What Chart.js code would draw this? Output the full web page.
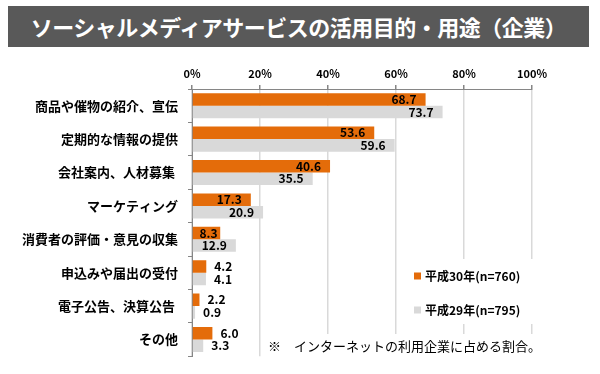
<!DOCTYPE html>
<html>
<head>
<meta charset="utf-8">
<script src="https://cdn.jsdelivr.net/npm/chart.js@4/dist/chart.umd.min.js"></script>
<style>
	body { margin: 0; background: #fff; }
	#wrap { position: relative; width: 600px; height: 374px; }
	#title {
		position: absolute; left: 8px; top: 6px; width: 581px; height: 41px;
		background: #595959; color: #fff; font: bold 22px 'Noto Sans CJK JP', sans-serif;
		line-height: 41px; text-align: center; letter-spacing: -0.5px;
	}
	canvas { position: absolute; left: 0; top: 0; }
</style>
</head>
<body>
<div id="wrap">
	<canvas id="chart" width="600" height="374"></canvas>
	<div id="title">ソーシャルメディアサービスの活用目的・用途（企業）</div>
</div>
<script>
const categories = ['商品や催物の紹介、宣伝', '定期的な情報の提供', '会社案内、人材募集 ', 'マーケティング',
	'消費者の評価・意見の収集', '申込みや届出の受付', '電子公告、決算公告 ', 'その他'];
const seriesNames = ['平成30年(n=760)', '平成29年(n=795)'];
const values2018 = [68.7, 53.6, 40.6, 17.3, 8.3, 4.2, 2.2, 6.0];
const values2017 = [73.7, 59.6, 35.5, 20.9, 12.9, 4.1, 0.9, 3.3];
const xTicks = [0, 20, 40, 60, 80, 100];
const note = '※　インターネットの利用企業に占める割合。';

const FONT = "'Noto Sans CJK JP', sans-serif";

// value labels, legend box and note drawn on the canvas
const extras = {
	id: 'extras',
	afterDatasetsDraw(chart) {
		const ctx = chart.ctx;
		ctx.save();
		ctx.font = 'bold 12px ' + FONT;
		ctx.fillStyle = '#000';
		ctx.textBaseline = 'middle';
		chart.data.datasets.forEach((ds, di) => {
			chart.getDatasetMeta(di).data.forEach((bar, i) => {
				const txt = ds.data[i].toFixed(1);
				const tw = ctx.measureText(txt).width;
				const w = bar.x - bar.base;
				if (w > tw + 14) {
					ctx.textAlign = 'right';
					ctx.fillText(txt, bar.x - 9, bar.y);
				} else if (w > tw + 4) {
					ctx.textAlign = 'center';
					ctx.fillText(txt, (bar.x + bar.base) / 2 + 2, bar.y);
				} else {
					ctx.textAlign = 'left';
					ctx.fillText(txt, bar.x + 8, bar.y);
				}
			});
		});
		ctx.restore();
	},
	afterDraw(chart) {
		const ctx = chart.ctx;
		ctx.save();
		// legend
		ctx.fillStyle = '#fff';
		ctx.fillRect(400, 259, 145, 65);
		ctx.font = 'bold 12px ' + FONT;
		ctx.textBaseline = 'middle';
		ctx.textAlign = 'left';
		chart.data.datasets.forEach((ds, di) => {
			const y = 276 + di * 34;
			ctx.fillStyle = ds.backgroundColor;
			ctx.fillRect(414, y - 3.5, 7, 7);
			ctx.fillStyle = '#000';
			ctx.fillText(ds.label, 425, y);
		});
		// note
		ctx.fillStyle = '#fff';
		ctx.fillRect(262, 334, 285, 23);
		ctx.fillStyle = '#000';
		ctx.font = '13px ' + FONT;
		ctx.fillText(note, 268, 346);
		ctx.restore();
	}
};

new Chart(document.getElementById('chart'), {
	type: 'bar',
	data: {
		labels: categories,
		datasets: [
			{ label: seriesNames[0], data: values2018, backgroundColor: '#E46C0A' },
			{ label: seriesNames[1], data: values2017, backgroundColor: '#D9D9D9' }
		]
	},
	options: {
		indexAxis: 'y',
		responsive: false,
		animation: false,
		events: [],
		layout: { padding: { left: 0, right: 68, top: 0, bottom: 7 } },
		datasets: { bar: { categoryPercentage: 0.75, barPercentage: 1.0 } },
		plugins: { legend: { display: false }, tooltip: { enabled: false } },
		scales: {
			x: {
				position: 'top',
				min: 0, max: 100,
				afterFit: (s) => { s.height = 89; },
				afterBuildTicks: (s) => { s.ticks = xTicks.map(v => ({ value: v })); },
				ticks: {
					callback: v => v + '%',
					color: '#000', padding: 5,
					font: { family: FONT, size: 11, weight: 'bold' }
				},
				grid: { color: '#D9D9D9', tickColor: '#868686', tickLength: 4, lineWidth: 1.5 },
				border: { color: '#868686' }
			},
			y: {
				afterFit: (s) => { s.width = 192; },
				ticks: {
					color: '#000', padding: 10,
					font: { family: FONT, size: 13, weight: 'bold' }
				},
				grid: { drawOnChartArea: false, tickColor: '#868686', tickLength: 4 },
				border: { color: '#868686' }
			}
		}
	},
	plugins: [extras]
});
</script>
</body>
</html>
